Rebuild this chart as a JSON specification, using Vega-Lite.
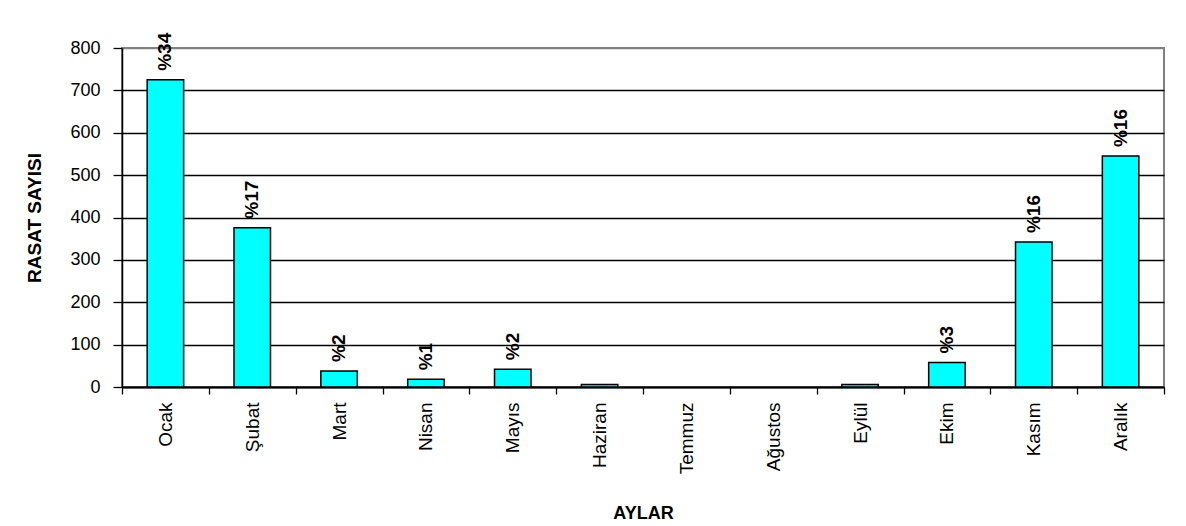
{
  "$schema": "https://vega.github.io/schema/vega-lite/v6.json",
  "width": 1042,
  "height": 339,
  "autosize": {"type": "none"},
  "padding": {"left": 122, "top": 48, "right": 22, "bottom": 139},
  "background": "white",
  "config": {
    "font": "Liberation Sans",
    "view": {"stroke": "#808080", "strokeWidth": 2}
  },
  "data": {
    "values": [
      {"ay": "Ocak", "rasat": 725, "etiket": "%34"},
      {"ay": "Şubat", "rasat": 376, "etiket": "%17"},
      {"ay": "Mart", "rasat": 38, "etiket": "%2"},
      {"ay": "Nisan", "rasat": 18, "etiket": "%1"},
      {"ay": "Mayıs", "rasat": 42, "etiket": "%2"},
      {"ay": "Haziran", "rasat": 6, "etiket": ""},
      {"ay": "Temmuz", "rasat": 0, "etiket": ""},
      {"ay": "Ağustos", "rasat": 0, "etiket": ""},
      {"ay": "Eylül", "rasat": 6, "etiket": ""},
      {"ay": "Ekim", "rasat": 58, "etiket": "%3"},
      {"ay": "Kasım", "rasat": 342, "etiket": "%16"},
      {"ay": "Aralık", "rasat": 545, "etiket": "%16"}
    ]
  },
  "encoding": {
    "x": {
      "field": "ay",
      "type": "nominal",
      "sort": ["Ocak", "Şubat", "Mart", "Nisan", "Mayıs", "Haziran", "Temmuz", "Ağustos", "Eylül", "Ekim", "Kasım", "Aralık"],
      "scale": {"paddingInner": 0, "paddingOuter": 0},
      "axis": {
        "title": "AYLAR",
        "labelAngle": -90,
        "tickBand": "extent",
        "tickSize": 7,
        "tickColor": "#000",
        "tickWidth": 1.3,
        "domainColor": "#000",
        "domainWidth": 2,
        "labelPadding": 8,
        "labelFontSize": 19,
        "labelColor": "#000",
        "labelBound": false,
        "titleFontSize": 18,
        "titleFontWeight": "bold",
        "titleColor": "#000",
        "titlePadding": 31
      }
    },
    "y": {
      "field": "rasat",
      "type": "quantitative",
      "scale": {"domain": [0, 800], "nice": false},
      "axis": {
        "title": "RASAT SAYISI",
        "values": [0, 100, 200, 300, 400, 500, 600, 700, 800],
        "grid": true,
        "gridColor": {"condition": {"test": "datum.value === 800", "value": "#808080"}, "value": "#000"},
        "gridWidth": 1.3,
        "gridOpacity": 1,
        "domainColor": "#000",
        "domainWidth": 1.5,
        "tickColor": "#000",
        "tickWidth": 1.3,
        "tickSize": 9,
        "labelPadding": 13,
        "labelFontSize": 18,
        "labelColor": "#000",
        "titleFontSize": 19,
        "titleFontWeight": "bold",
        "titleColor": "#000",
        "titlePadding": 25
      }
    }
  },
  "layer": [
    {
      "transform": [{"filter": "datum.rasat > 0"}],
      "mark": {"type": "bar", "width": {"band": 0.42}, "fill": "#00FFFF", "stroke": "#000", "strokeWidth": 1.5}
    },
    {
      "mark": {"type": "text", "angle": 270, "align": "left", "baseline": "middle", "dx": 9, "fontSize": 19, "fontWeight": "bold", "color": "#000"},
      "encoding": {"text": {"field": "etiket"}}
    }
  ]
}
